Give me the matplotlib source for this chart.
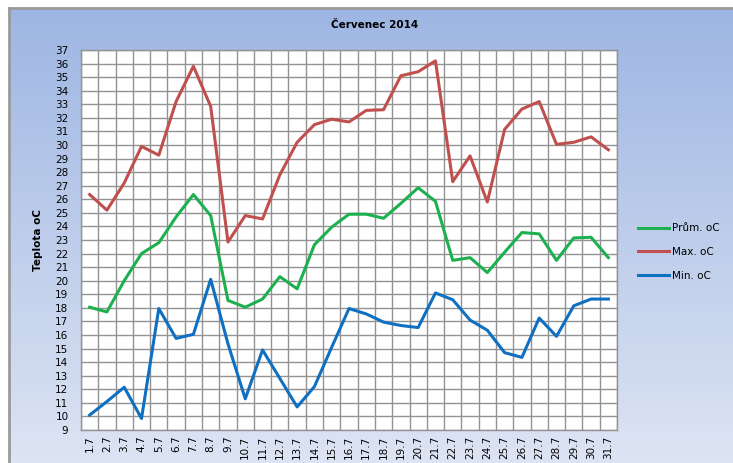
import numpy as np
import matplotlib
matplotlib.use("Agg")
import matplotlib.pyplot as plt

days = [f"{d}.7" for d in range(1, 32)]
prum = [18.05, 17.7, 20.0, 22.0, 22.8, 24.7, 26.35, 24.8, 18.55, 18.05, 18.65, 20.3, 19.4,
        22.65, 23.95, 24.9, 24.9, 24.6, 25.7, 26.85, 25.85, 21.5, 21.7, 20.6, 22.1, 23.55,
        23.45, 21.5, 23.15, 23.2, 21.7]
maxt = [26.35, 25.2, 27.2, 29.9, 29.25, 33.2, 35.8, 32.85, 22.85, 24.8, 24.55, 27.8, 30.2,
        31.5, 31.9, 31.7, 32.55, 32.6, 35.1, 35.4, 36.2, 27.3, 29.2, 25.8, 31.15, 32.65,
        33.2, 30.05, 30.2, 30.6, 29.65]
mint = [10.1, 11.1, 12.15, 9.85, 17.95, 15.75, 16.05, 20.1, 15.35, 11.3, 14.9, 12.8, 10.7,
        12.2, 15.1, 17.95, 17.55, 16.95, 16.7, 16.55, 19.1, 18.6, 17.1, 16.35, 14.7, 14.35,
        17.25, 15.9, 18.15, 18.65, 18.65]
series_names = ["Prům. oC", "Max. oC", "Min. oC"]
series_colors = ["#1DB04F", "#C0504D", "#0F6FC1"]
yticks = list(range(9, 38))

W, H = 733, 463
fig = plt.figure(figsize=(W / 100, H / 100), dpi=100)

# background gradient
bg = fig.add_axes([9 / W, 0, 1 - 9 / W, 1 - 8 / H], zorder=-10)
grad = np.linspace(0, 1, 256).reshape(-1, 1)
top = np.array([0x9E, 0xB6, 0xE3]) / 255
bot = np.array([0xDD, 0xE4, 0xF3]) / 255
img = top[None, None, :] * (1 - grad[:, :, None]) + bot[None, None, :] * grad[:, :, None]
bg.imshow(img, aspect="auto", extent=[0, 1, 0, 1], origin="upper")
bg.set_xticks([]); bg.set_yticks([])
for s in ["right", "bottom"]:
    bg.spines[s].set_visible(False)
for s in ["left", "top"]:
    bg.spines[s].set_color("#9a9a9a")
    bg.spines[s].set_linewidth(2)

ax = fig.add_axes([81 / W, 1 - 430 / H, (617 - 81) / W, (430 - 50) / H])
ax.set_facecolor("white")
x = np.arange(len(days))
for vals, name, col in zip([prum, maxt, mint], series_names, series_colors):
    ax.plot(x, vals, color=col, lw=2.2, label=name, solid_joinstyle="round", zorder=3)

ax.set_xlim(-0.5, len(days) - 0.5)
ax.set_ylim(9, 37)
ax.set_yticks(yticks)
ax.set_yticklabels([str(t) for t in yticks], fontsize=7.5)
ax.set_xticks(x)
ax.set_xticklabels(days, rotation=90, fontsize=7.5)
ax.set_xticks(np.arange(-0.5, len(days), 1), minor=True)
ax.tick_params(axis="both", which="both", length=0)
ax.tick_params(axis="x", pad=4)
ax.tick_params(axis="y", pad=9)
ax.grid(True, which="minor", axis="x", color="#939393", lw=1)
ax.grid(True, which="major", axis="y", color="#939393", lw=1)
ax.grid(False, which="major", axis="x")
for s in ax.spines.values():
    s.set_color("#939393")
    s.set_linewidth(1)
ax.set_ylabel("Teplota oC", fontsize=7.5, fontweight="bold", labelpad=9)

fig.text(375 / W, 1 - 25 / H, "Červenec 2014", ha="center", va="center",
         fontsize=7.5, fontweight="bold")

fig.legend(loc="center left", bbox_to_anchor=(638 / W, 1 - 252 / H), frameon=False,
           fontsize=7.5, handlelength=3.0, handletextpad=0.3, labelspacing=1.3,
           borderaxespad=0, borderpad=0)

fig.savefig("out.png", dpi=100)
